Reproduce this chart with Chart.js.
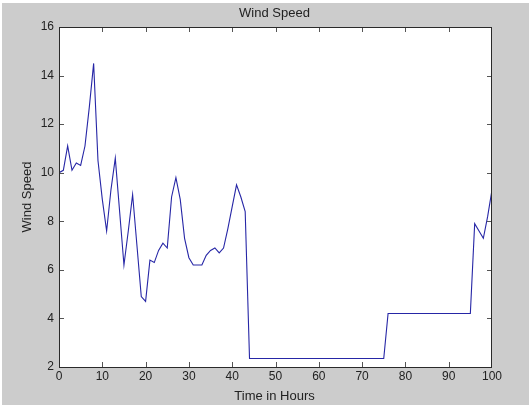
<!DOCTYPE html>
<html>
<head>
<meta charset="utf-8">
<script src="https://cdn.jsdelivr.net/npm/chart.js@4"></script>
<style>
html,body{margin:0;padding:0;background:#ffffff;width:529px;height:409px;overflow:hidden;}
#bg{position:absolute;left:2px;top:3px;width:527px;height:402px;background:#cccccc;}
#c{position:absolute;left:0;top:0;}
</style>
</head>
<body>
<div id="bg"></div>
<canvas id="c" width="529" height="409"></canvas>
<script>
const chartTitle = "Wind Speed";
const xTitle = "Time in Hours";
const yTitle = "Wind Speed";
const hours = [0,1,2,3,4,5,6,7,8,9,10,11,12,13,14,15,16,17,18,19,20,
  21,22,23,24,25,26,27,28,29,30,31,32,33,34,35,36,37,38,39,40,
  41,42,43,44,45,46,47,48,49,50,51,52,53,54,55,56,57,58,59,60,
  61,62,63,64,65,66,67,68,69,70,71,72,73,74,75,76,77,78,79,80,
  81,82,83,84,85,86,87,88,89,90,91,92,93,94,95,96,97,98,99,100];
const windSpeed = [10.0,10.1,11.1,10.1,10.4,10.3,11.1,12.7,14.5,10.5,8.9,
  7.6,9.3,10.6,8.4,6.2,7.6,9.1,7.0,4.9,4.7,
  6.4,6.3,6.8,7.1,6.9,9.0,9.8,8.9,7.3,6.5,
  6.2,6.2,6.2,6.6,6.8,6.9,6.7,6.9,7.7,8.6,
  9.5,9.0,8.4,2.35,2.35,2.35,2.35,2.35,2.35,2.35,
  2.35,2.35,2.35,2.35,2.35,2.35,2.35,2.35,2.35,2.35,
  2.35,2.35,2.35,2.35,2.35,2.35,2.35,2.35,2.35,2.35,
  2.35,2.35,2.35,2.35,2.35,4.2,4.2,4.2,4.2,4.2,
  4.2,4.2,4.2,4.2,4.2,4.2,4.2,4.2,4.2,4.2,
  4.2,4.2,4.2,4.2,4.2,7.9,7.6,7.3,8.2,9.3];
const xTicks = [0,10,20,30,40,50,60,70,80,90,100];
const yTicks = [2,4,6,8,10,12,14,16];

const points = hours.map((h, i) => ({x: h, y: windSpeed[i]}));
const FONT = "'Liberation Sans', Arial, sans-serif";
const TXT = '#222222';

const framePlugin = {
  id: 'frame',
  beforeDraw(chart) {
    const a = chart.chartArea, ctx = chart.ctx;
    ctx.save();
    ctx.fillStyle = '#ffffff';
    ctx.fillRect(a.left, a.top, a.right - a.left, a.bottom - a.top);
    ctx.restore();
  },
  afterDraw(chart) {
    const a = chart.chartArea, ctx = chart.ctx;
    const xs = chart.scales.x, ys = chart.scales.y;
    ctx.save();
    ctx.strokeStyle = '#555555';
    ctx.lineWidth = 1;
    ctx.beginPath();
    xTicks.slice(1, -1).forEach(v => {
      const p = Math.round(xs.getPixelForValue(v)) + 0.5;
      ctx.moveTo(p, a.bottom); ctx.lineTo(p, a.bottom - 5);
      ctx.moveTo(p, a.top); ctx.lineTo(p, a.top + 5);
    });
    yTicks.slice(1, -1).forEach(v => {
      const p = Math.round(ys.getPixelForValue(v)) + 0.5;
      ctx.moveTo(a.left, p); ctx.lineTo(a.left + 5, p);
      ctx.moveTo(a.right, p); ctx.lineTo(a.right - 5, p);
    });
    ctx.stroke();
    ctx.strokeStyle = '#2a2a2a';
    ctx.strokeRect(Math.round(a.left) + 0.5, Math.round(a.top) + 0.5,
      Math.round(a.right - a.left) - 1, Math.round(a.bottom - a.top));
    ctx.fillStyle = TXT;
    ctx.font = '13px ' + FONT;
    ctx.textAlign = 'center';
    ctx.textBaseline = 'alphabetic';
    const cx = (a.left + a.right) / 2;
    ctx.fillText(chartTitle, cx - 1, 17);
    ctx.fillText(xTitle, cx - 1, 400);
    ctx.translate(31, (a.top + a.bottom) / 2);
    ctx.rotate(-Math.PI / 2);
    ctx.textBaseline = 'alphabetic';
    ctx.fillText(yTitle, 0, 0);
    ctx.restore();
  }
};

new Chart(document.getElementById('c'), {
  type: 'line',
  data: {
    datasets: [{
      data: points,
      borderColor: '#2626a6',
      borderWidth: 1.1,
      pointRadius: 0,
      tension: 0,
      fill: false
    }]
  },
  options: {
    responsive: false,
    animation: false,
    events: [],
    layout: { padding: { left: 0, right: 37, top: 27, bottom: 0 } },
    plugins: { legend: { display: false }, tooltip: { enabled: false }, title: { display: false } },
    scales: {
      x: {
        type: 'linear', min: 0, max: 100,
        afterFit(s) { s.height = 42; },
        afterBuildTicks(s) { s.ticks = xTicks.map(v => ({value: v})); },
        grid: { display: false, drawTicks: false, tickLength: 0 },
        border: { display: false },
        ticks: { color: TXT, font: { family: FONT, size: 12 }, padding: 2, maxRotation: 0, autoSkip: false }
      },
      y: {
        type: 'linear', min: 2, max: 16,
        afterFit(s) { s.width = 59; },
        afterBuildTicks(s) { s.ticks = yTicks.map(v => ({value: v})); },
        grid: { display: false, drawTicks: false, tickLength: 0 },
        border: { display: false },
        ticks: { color: TXT, font: { family: FONT, size: 12 }, padding: 5, autoSkip: false }
      }
    }
  },
  plugins: [framePlugin]
});
</script>
</body>
</html>
